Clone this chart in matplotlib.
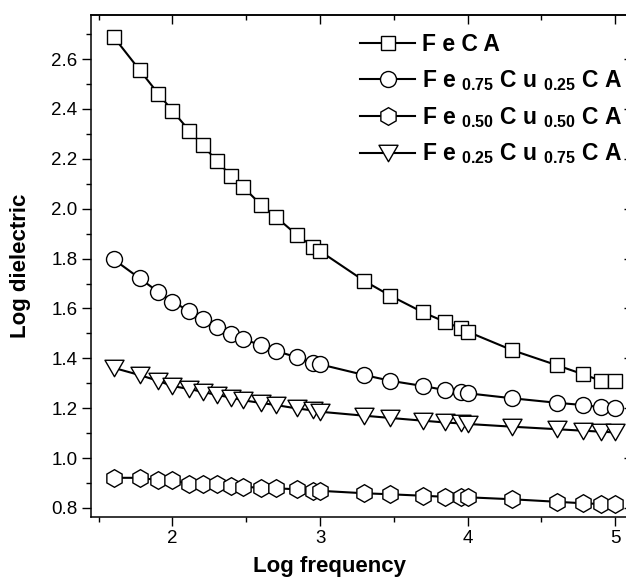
import matplotlib
matplotlib.use("Agg")
import matplotlib.pyplot as plt
from matplotlib.ticker import MultipleLocator
from matplotlib.path import Path

plt.rcParams['font.family'] = ['Liberation Sans', 'DejaVu Sans']
plt.rcParams['mathtext.fontset'] = 'custom'
plt.rcParams['mathtext.bf'] = 'Liberation Sans:bold'
plt.rcParams['mathtext.rm'] = 'Liberation Sans'

# ---- data ----
log_freq = [1.602, 1.778, 1.903, 2.0, 2.114, 2.204, 2.301, 2.398, 2.477, 2.602,
            2.699, 2.845, 2.954, 3.0, 3.301, 3.477, 3.699, 3.845, 3.954, 4.0,
            4.301, 4.602, 4.778, 4.903, 5.0]

fe_ca = [2.689, 2.556, 2.462, 2.393, 2.313, 2.255, 2.192, 2.131, 2.088, 2.015,
         1.968, 1.894, 1.847, 1.830, 1.710, 1.651, 1.584, 1.547, 1.520, 1.507,
         1.433, 1.373, 1.337, 1.310, 1.309]

fe075 = [1.797, 1.721, 1.667, 1.627, 1.590, 1.556, 1.524, 1.497, 1.477, 1.453,
         1.430, 1.404, 1.382, 1.376, 1.333, 1.310, 1.289, 1.273, 1.264, 1.260,
         1.240, 1.222, 1.213, 1.204, 1.199]

fe050 = [0.921, 0.921, 0.912, 0.912, 0.896, 0.896, 0.895, 0.888, 0.885, 0.881,
         0.879, 0.875, 0.869, 0.869, 0.859, 0.855, 0.849, 0.845, 0.845, 0.843,
         0.835, 0.825, 0.819, 0.816, 0.816]

fe025 = [1.362, 1.333, 1.310, 1.289, 1.277, 1.266, 1.253, 1.243, 1.232, 1.221,
         1.213, 1.199, 1.191, 1.186, 1.170, 1.161, 1.150, 1.143, 1.139, 1.137,
         1.126, 1.116, 1.110, 1.106, 1.103]

labels = [r"F e C A",
          r"F e $_{\mathbf{0.75}}$ C u $_{\mathbf{0.25}}$ C A",
          r"F e $_{\mathbf{0.50}}$ C u $_{\mathbf{0.50}}$ C A",
          r"F e $_{\mathbf{0.25}}$ C u $_{\mathbf{0.75}}$ C A"]

x_ticks = [2, 3, 4, 5]
y_ticks = [0.8, 1.0, 1.2, 1.4, 1.6, 1.8, 2.0, 2.2, 2.4, 2.6]

# ---- figure ----
fig = plt.figure(figsize=(6.26, 5.81), dpi=100)
ax = fig.add_axes([0.1449, 0.1102, 0.8663, 0.8645])

tri = Path([(-1, 0.866), (1, 0.866), (0, -0.866), (-1, 0.866)],
           [Path.MOVETO, Path.LINETO, Path.LINETO, Path.CLOSEPOLY])
common = dict(color='black', lw=1.5, mfc='white', mec='black', mew=1.0)
ax.plot(log_freq, fe_ca, marker='s', ms=10.6, label=labels[0], **common)
ax.plot(log_freq, fe075, marker='o', ms=11.5, label=labels[1], **common)
ax.plot(log_freq, fe050, marker='h', ms=12.7, label=labels[2], **common)
ax.plot(log_freq, fe025, marker=tri, ms=13.7, label=labels[3], **common)

ax.set_xlim(1.4465, 5.12)
ax.set_ylim(0.764, 2.778)
ax.set_xticks(x_ticks)
ax.set_xticklabels([str(t) for t in x_ticks])
ax.set_yticks(y_ticks)
ax.set_yticklabels([f"{t:.1f}" for t in y_ticks])
ax.xaxis.set_minor_locator(MultipleLocator(0.5))
ax.yaxis.set_minor_locator(MultipleLocator(0.1))

for s in ax.spines.values():
    s.set_linewidth(1.1)
ax.tick_params(axis='both', which='major', length=6.5, width=1.0,
               labelsize=13.5, pad=3)
ax.tick_params(axis='both', which='minor', length=3.8, width=1.0)
ax.tick_params(axis='x', which='both', direction='out', bottom=True)
ax.tick_params(axis='y', which='both', direction='out', left=True)

# top and right ticks inward, no labels
axt = ax.secondary_xaxis('top')
axt.set_xticks(x_ticks)
axt.xaxis.set_minor_locator(MultipleLocator(0.5))
axt.tick_params(which='both', direction='in', labeltop=False, width=1.0)
axt.tick_params(which='major', length=6.5)
axt.tick_params(which='minor', length=3.8)
axt.spines['top'].set_linewidth(1.1)
axr = ax.secondary_yaxis('right')
axr.set_yticks(y_ticks)
axr.yaxis.set_minor_locator(MultipleLocator(0.1))
axr.tick_params(which='both', direction='in', labelright=False, width=1.0)
axr.tick_params(which='major', length=6.5)
axr.tick_params(which='minor', length=3.8)

ax.set_xlabel("Log frequency", fontsize=16, fontweight='bold')
ax.set_ylabel("Log dielectric", fontsize=16, fontweight='bold')
ax.xaxis.set_label_coords(0.4403, -0.0770)
ax.yaxis.set_label_coords(-0.1100, 0.5)

leg = ax.legend(loc='upper left', bbox_to_anchor=(360 / 626, 1 - 33 / 581),
                bbox_transform=fig.transFigure, frameon=False, numpoints=1,
                prop={'family': 'Liberation Sans', 'weight': 'bold', 'size': 16.5},
                handlelength=2.4, handletextpad=0.3, labelspacing=0.52,
                borderpad=0, borderaxespad=0)

fig.savefig("out.png", dpi=100)
